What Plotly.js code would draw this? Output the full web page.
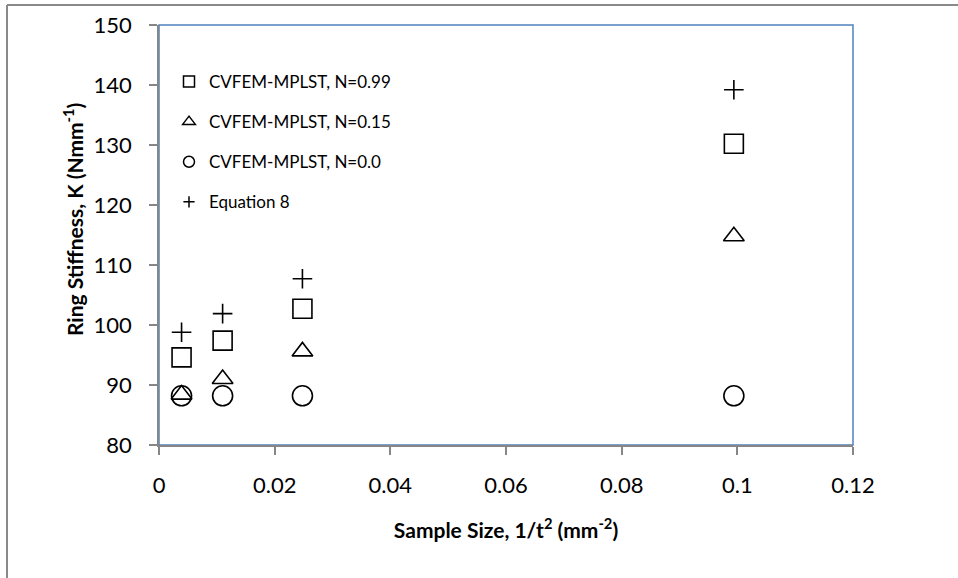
<!DOCTYPE html>
<html>
<head>
<meta charset="utf-8">
<script src="https://cdn.plot.ly/plotly-3.0.1.min.js"></script>
<style>html,body{margin:0;padding:0;background:#fff;}#chart{width:958px;height:578px;}</style>
</head>
<body>
<div id="chart"></div>
<script>
// Data
var sampleSize = [0.0039, 0.011, 0.0248, 0.0994];          // 1/t^2 (mm^-2)
var stiffN099  = [94.6, 97.4, 102.7, 130.2];                // CVFEM-MPLST, N=0.99
var stiffN015  = [88.4, 91.0, 95.6, 114.8];                 // CVFEM-MPLST, N=0.15
var stiffN000  = [88.2, 88.2, 88.2, 88.2];                  // CVFEM-MPLST, N=0.0
var stiffEq8   = [98.8, 101.9, 107.7, 139.2];               // Equation 8
var seriesNames = ['CVFEM-MPLST, N=0.99', 'CVFEM-MPLST, N=0.15', 'CVFEM-MPLST, N=0.0', 'Equation 8'];
var xTicks = [0, 0.02, 0.04, 0.06, 0.08, 0.1, 0.12];
var xTickText = ['0', '0.02', '0.04', '0.06', '0.08', '0.1', '0.12'];
var yTicks = [80, 90, 100, 110, 120, 130, 140, 150];
var xTitle = '<b>Sample Size, 1/t<sup>2</sup> (mm<sup>-2</sup>)</b>';
var yTitle = '<b>Ring Stiffness, K (Nmm<sup>-1</sup>)</b>';

var symbols = ['square-open', 'triangle-up-open', 'circle-open', 'cross-thin-open'];
var sizes = [19, 18, 20, 14];
var legSizes = [11, 11, 11, 8];
var ys = [stiffN099, stiffN015, stiffN000, stiffEq8];

var traces = [];
for (var i = 0; i < 4; i++) {
  traces.push({
    x: sampleSize, y: ys[i], type: 'scatter', mode: 'markers', name: seriesNames[i],
    showlegend: false, hoverinfo: 'x+y',
    marker: {symbol: symbols[i], size: sizes[i], color: '#000', line: {color: '#000', width: 1.6}}
  });
}
// legend entries (smaller symbols, as in the reference legend)
for (var j = 0; j < 4; j++) {
  traces.push({
    x: [null], y: [null], type: 'scatter', mode: 'markers', name: seriesNames[j],
    legendgroup: 'g' + j, showlegend: true, hoverinfo: 'skip',
    marker: {symbol: symbols[j], size: legSizes[j], color: '#000', line: {color: '#000', width: 1.5}}
  });
}

var ml = 159, mr = 105, mt = 25, mb = 133;
var pw = 958 - ml - mr, ph = 578 - mt - mb;
var FONT = 'Lato, "Open Sans", sans-serif';

var layout = {
  width: 958, height: 578,
  margin: {l: ml, r: mr, t: mt, b: mb, pad: 0},
  paper_bgcolor: '#fff', plot_bgcolor: '#fff',
  font: {family: FONT, color: '#000'},
  showlegend: true,
  legend: {
    x: (169 - ml) / pw, y: 1 - (64 - mt) / ph, xanchor: 'left', yanchor: 'top',
    bgcolor: 'rgba(0,0,0,0)', borderwidth: 0, tracegroupgap: 15,
    font: {size: 17, family: FONT, color: '#000'},
    itemclick: false, itemdoubleclick: false
  },
  xaxis: {
    range: [0, 0.12], tickvals: xTicks, ticktext: xTickText,
    showgrid: false, zeroline: false, showline: true, linecolor: '#868686', linewidth: 1.5,
    ticks: 'outside', ticklen: 8, tickcolor: '#868686', tickwidth: 1.5, ticklabelstandoff: 12,
    tickfont: {size: 22}, fixedrange: true,
    title: {text: xTitle, font: {size: 21}, standoff: 26}
  },
  yaxis: {
    range: [80, 150], tickvals: yTicks,
    showgrid: false, zeroline: false, showline: true, linecolor: '#868686', linewidth: 1.5,
    ticks: 'outside', ticklen: 8, tickcolor: '#868686', tickwidth: 1.5, ticklabelstandoff: 13,
    tickfont: {size: 22}, fixedrange: true
  },
  annotations: [
    {text: yTitle, textangle: -90, xref: 'paper', yref: 'paper',
     x: (73 - ml) / pw, y: 1 - (220 - mt) / ph, xanchor: 'center', yanchor: 'middle',
     showarrow: false, font: {size: 21, family: FONT, color: '#000'}}
  ],
  shapes: [
    // plot-area border (blue)
    {type: 'rect', xref: 'paper', yref: 'paper', x0: 0, x1: 1, y0: 0, y1: 1,
     line: {color: '#4f81bd', width: 1.5}, layer: 'below'},
    // outer chart-area border (grey), top and left edges
    {type: 'line', xref: 'paper', yref: 'paper', x0: (7 - ml) / pw, x1: (960 - ml) / pw,
     y0: 1 + (mt - 5) / ph, y1: 1 + (mt - 5) / ph, line: {color: '#898989', width: 2}},
    {type: 'line', xref: 'paper', yref: 'paper', x0: (7 - ml) / pw, x1: (7 - ml) / pw,
     y0: 1 + (mt - 5) / ph, y1: -(582 - 578 + mb) / ph, line: {color: '#898989', width: 2}}
  ]
};

Plotly.newPlot('chart', traces, layout, {displayModeBar: false});
</script>
</body>
</html>
